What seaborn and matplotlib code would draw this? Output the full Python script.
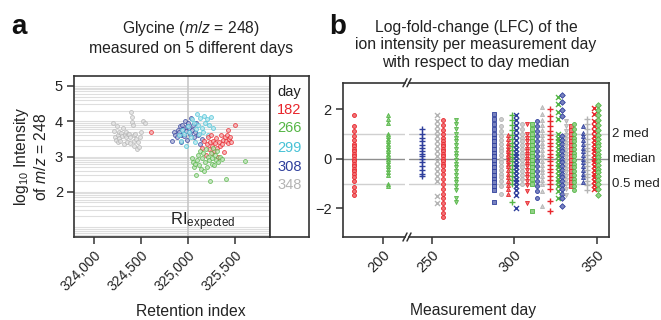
import math
import matplotlib
matplotlib.use('Agg')
import matplotlib.pyplot as plt
import matplotlib.colors as mcolors
import seaborn as sns
import pandas as pd

# ---------------- data: panel a ----------------
DAY_LABELS = ['182', '266', '299', '308', '348']

RI_348 = [324200, 324210, 324220, 324235, 324240, 324250, 324255, 324265, 324270, 324280,
          324290, 324300, 324310, 324320, 324330, 324340, 324345, 324350, 324360, 324370,
          324380, 324385, 324395, 324400, 324405, 324410, 324420, 324425, 324430, 324440,
          324450, 324460, 324470, 324480, 324490, 324500, 324520, 324545]
INT_348 = [3.95, 3.72, 3.55, 3.48, 3.85, 3.62, 3.40, 3.70, 3.52, 3.45,
           3.66, 3.58, 3.80, 3.35, 3.62, 3.55, 3.70, 3.42, 3.63, 3.64,
           3.38, 3.55, 4.25, 4.12, 3.98, 3.88, 3.60, 3.30, 3.45, 3.65,
           3.50, 3.22, 3.40, 3.28, 3.55, 3.68, 4.00, 3.95]

RI_308 = [324830, 324850, 324860, 324880, 324890, 324900, 324910, 324920, 324930, 324940,
          324950, 324960, 324965, 324975, 324985, 324990, 325000, 325010, 325020, 325030,
          325040, 325050, 325060, 325075, 325090, 325110, 325130, 325150]
INT_308 = [3.45, 3.70, 3.62, 3.55, 3.75, 3.68, 3.85, 3.40, 3.62, 3.90,
           3.78, 3.58, 4.00, 3.72, 3.85, 3.48, 3.95, 3.80, 3.65, 4.10,
           3.75, 3.88, 3.55, 3.70, 3.95, 3.60, 3.35, 3.50]

RI_299 = [324900, 324920, 324940, 324960, 324980, 325000, 325010, 325030, 325040, 325060,
          325070, 325080, 325100, 325110, 325120, 325130, 325150, 325160, 325170, 325180,
          325200, 325210, 325220, 325240, 325270]
INT_299 = [3.60, 3.45, 3.75, 3.65, 3.30, 3.85, 3.70, 3.55, 4.05, 3.95,
           3.40, 3.78, 4.20, 3.88, 3.65, 4.10, 3.82, 3.70, 4.15, 3.95,
           4.05, 3.60, 3.90, 4.12, 3.80]

RI_182 = [324610, 325150, 325170, 325190, 325200, 325210, 325220, 325230, 325240, 325250,
          325260, 325270, 325280, 325290, 325300, 325310, 325320, 325330, 325340, 325350,
          325360, 325370, 325380, 325390, 325400, 325410, 325420, 325430, 325440, 325450,
          325460, 325500]
INT_182 = [3.68, 3.25, 3.45, 3.05, 3.35, 3.55, 3.20, 3.40, 3.60, 3.10,
           3.30, 3.45, 3.15, 3.38, 3.52, 3.25, 3.00, 3.42, 3.30, 3.60,
           3.35, 3.48, 3.12, 3.55, 3.45, 3.62, 3.38, 3.75, 3.50, 3.55,
           3.40, 3.88]

RI_266 = [325040, 325050, 325060, 325075, 325090, 325100, 325110, 325120, 325130, 325140,
          325150, 325160, 325170, 325180, 325190, 325200, 325210, 325220, 325230, 325240,
          325250, 325260, 325270, 325280, 325290, 325300, 325310, 325320, 325340, 325360,
          325400, 325610]
INT_266 = [2.95, 2.85, 2.70, 2.78, 2.48, 2.90, 3.05, 2.75, 3.15, 2.65,
           2.95, 3.10, 2.60, 2.85, 3.20, 2.70, 3.00, 2.90, 2.30, 3.10,
           2.80, 2.95, 3.25, 2.75, 3.05, 2.90, 3.15, 2.85, 3.00, 2.92,
           2.36, 2.88]

RI_TICKS = [324000, 324500, 325000, 325500]
RI_EXPECTED = 325000

# ---------------- data: panel b ----------------
LFC_DAYS = [182, 203, 244, 253, 257, 265, 288, 292, 296, 298.5, 301, 304.5, 307.5, 311,
            313.6, 316.6, 321.7, 326.3, 328.7, 331.4, 334.2, 336.4, 341.5, 344.3, 348.5, 351]
LFC_VALUES = [
    [1.75, 1.3, 1.1, 0.9, 0.75, 0.6, 0.5, 0.4, 0.3, 0.2, 0.1, 0.0, -0.1, -0.2, -0.3, -0.4, -0.5, -0.6, -0.75, -0.9, -1.15, -1.3, -1.45],
    [1.75, 1.6, 1.45, 1.0, 0.9, 0.8, 0.7, 0.6, 0.5, 0.4, 0.3, 0.2, 0.1, 0.0, -0.1, -0.2, -0.3, -0.4, -0.55, -0.65, -1.0, -1.1],
    [1.2, 1.0, 0.85, 0.7, 0.55, 0.45, 0.3, 0.2, 0.1, 0.0, -0.15, -0.3, -0.45, -0.6, -0.7],
    [1.75, 1.5, 1.3, 1.1, 0.9, 0.7, 0.5, 0.3, 0.1, -0.1, -0.3, -0.5, -0.7, -0.9, -1.5, -1.8],
    [1.55, 1.35, 1.15, 1.0, 0.85, 0.7, 0.6, 0.5, 0.4, 0.3, 0.2, 0.1, 0.0, -0.1, -0.2, -0.3, -0.45, -0.6, -0.8, -1.0, -1.2, -1.4, -1.6, -1.8, -2.0, -2.2, -2.35],
    [1.55, 1.4, 1.2, 1.0, 0.85, 0.7, 0.55, 0.4, 0.25, 0.1, -0.05, -0.2, -0.35, -0.5, -0.65, -0.8, -0.95, -1.1, -1.25, -1.6, -1.75],
    [1.8, 1.6, 1.4, 1.2, 1.0, 0.85, 0.7, 0.55, 0.4, 0.25, 0.1, -0.05, -0.2, -0.35, -0.5, -0.65, -0.8, -0.95, -1.1, -1.25, -1.75],
    [1.6, 1.3, 1.1, 0.9, 0.75, 0.6, 0.45, 0.3, 0.15, 0.0, -0.15, -0.3, -0.45, -0.6, -0.75, -0.9, -1.1, -1.4],
    [0.95, 0.8, 0.65, 0.5, 0.4, 0.3, 0.2, 0.1, 0.0, -0.1, -0.2, -0.3, -0.45, -0.6, -0.75, -0.9, -1.05, -1.2, -1.42],
    [1.75, 1.55, 1.35, 1.15, 0.95, 0.8, 0.65, 0.5, 0.35, 0.2, 0.05, -0.1, -0.25, -0.4, -0.55, -0.7, -0.85, -1.0, -1.75],
    [1.75, 1.55, 1.35, 1.15, 0.95, 0.75, 0.55, 0.4, 0.25, 0.1, -0.05, -0.2, -0.35, -0.5, -0.65, -0.8, -0.95, -1.1, -1.25, -1.45, -2.0],
    [1.4, 1.2, 1.0, 0.85, 0.7, 0.55, 0.4, 0.25, 0.1, -0.05, -0.2, -0.35, -0.5, -0.65, -0.8, -1.0],
    [1.4, 1.0, 0.85, 0.7, 0.55, 0.4, 0.3, 0.2, 0.1, 0.0, -0.1, -0.2, -0.3, -0.45, -0.6, -0.75, -0.9, -1.05, -1.3, -1.8],
    [1.4, 1.2, 1.0, 0.85, 0.7, 0.55, 0.4, 0.25, 0.1, -0.05, -0.2, -0.35, -0.5, -0.65, -0.8, -1.0, -2.1],
    [1.5, 1.3, 1.1, 0.9, 0.7, 0.5, 0.3, 0.1, -0.1, -0.3, -0.5, -0.7, -0.9, -1.1, -1.3, -1.6],
    [2.1, 1.8, 1.55, 1.35, 1.15, 0.95, 0.8, 0.65, 0.5, 0.35, 0.2, 0.05, -0.1, -0.25, -0.4, -0.55, -0.7, -0.85, -1.0, -1.3, -1.9],
    [2.0, 1.7, 1.5, 1.3, 1.1, 0.95, 0.8, 0.65, 0.5, 0.35, 0.2, 0.05, -0.1, -0.25, -0.4, -0.55, -0.7, -0.85, -1.0, -1.2, -1.7, -2.1],
    [2.5, 2.2, 1.9, 1.6, 1.0, 0.85, 0.7, 0.55, 0.4, 0.25, 0.1, -0.05, -0.2, -0.35, -0.5, -0.65, -0.8, -0.95, -1.1, -1.3, -1.6],
    [2.55, 2.3, 1.95, 1.7, 0.9, 0.75, 0.6, 0.45, 0.3, 0.15, 0.0, -0.15, -0.3, -0.45, -0.6, -0.75, -0.9, -1.05, -1.2, -1.4, -1.6, -1.9],
    [1.5, 1.3, 1.1, 0.95, 0.8, 0.65, 0.5, 0.35, 0.2, 0.05, -0.1, -0.25, -0.4, -0.55, -0.7, -0.85, -1.0, -1.2, -1.45],
    [1.3, 1.15, 1.0, 0.85, 0.7, 0.55, 0.4, 0.25, 0.1, -0.05, -0.2, -0.35, -0.5, -0.65, -0.8, -0.95, -1.1],
    [1.4, 1.2, 1.0, 0.85, 0.7, 0.55, 0.4, 0.25, 0.1, -0.05, -0.2, -0.35, -0.5, -0.65, -0.8, -0.95, -1.1, -1.25],
    [1.3, 1.05, 0.9, 0.75, 0.6, 0.45, 0.3, 0.15, 0.0, -0.15, -0.3, -0.45, -0.6, -0.75, -0.95],
    [1.6, 1.4, 1.2, 1.0, 0.8, 0.6, 0.45, 0.3, 0.15, 0.0, -0.15, -0.3, -0.45, -0.6, -0.75, -0.9, -1.05, -1.25],
    [2.05, 1.8, 1.5, 1.3, 1.1, 0.9, 0.75, 0.6, 0.45, 0.3, 0.15, 0.0, -0.15, -0.3, -0.45, -0.6, -0.75, -0.9, -1.05, -1.2],
    [2.15, 1.95, 1.75, 1.55, 1.35, 1.15, 0.95, 0.8, 0.65, 0.5, 0.35, 0.2, 0.05, -0.1, -0.25, -0.4, -0.55, -0.7, -0.85, -1.0, -1.2, -1.45],
]
LFC_REF_LINES = [1, 0, -1]
LFC_REF_LABELS = ['2 med', 'median', '0.5 med']
DAY_TICKS_LEFT = [200]
DAY_TICKS_RIGHT = [250, 300, 350]

# ---------------- styles ----------------
RED, GREEN, CYAN, BLUE, GRAY = '#e8262c', '#55b646', '#48c2d6', '#2f3f9c', '#b4b4b4'
A_COLORS = {'182': RED, '266': GREEN, '299': CYAN, '308': BLUE, '348': GRAY}
B_COLORS = [RED, GREEN, BLUE, GRAY, RED, GREEN, BLUE, GRAY, RED, GREEN, BLUE, GRAY, RED,
            GREEN, BLUE, GRAY, RED, GREEN, BLUE, GRAY, RED, GREEN, BLUE, GRAY, RED, GREEN]
B_MARKERS = ['o', '^', '+', 'x', 'o', 'v', 's', 'o', '^', '+', 'x', 'o', 'v', 's',
             'o', '^', '+', 'x', 'D', 'v', 's', 'o', '^', '+', 'x', 'D']

sns.set_theme(style='ticks')
plt.rcParams['font.family'] = ['Liberation Sans', 'DejaVu Sans']
plt.rcParams['mathtext.fontset'] = 'custom'
plt.rcParams['mathtext.rm'] = 'Liberation Sans'
plt.rcParams['mathtext.it'] = 'Liberation Sans:italic'
plt.rcParams['axes.unicode_minus'] = True

W, H = 661, 320
fig = plt.figure(figsize=(W / 100, H / 100), dpi=100)


def rect(l, t, r, b):
    return [l / W, 1 - b / H, (r - l) / W, (b - t) / H]


def light(c, f=0.55):
    r, g, b = mcolors.to_rgb(c)
    return (r + (1 - r) * f, g + (1 - g) * f, b + (1 - b) * f)


SPINE = '#333333'
TXT = '#222222'
TITLE_FS = 11.3

# ================= panel a =================
axa = fig.add_axes(rect(74, 76, 270, 237))
axl = fig.add_axes(rect(270, 76, 309, 237))

for n in range(0, 6):
    for k in range(1, 10):
        axa.axhline(n + math.log10(k), color='#dedede', lw=0.8, zorder=0)
axa.axvline(RI_EXPECTED, color='#c8c8c8', lw=1.2, zorder=0)

groups = [('348', RI_348, INT_348), ('308', RI_308, INT_308), ('299', RI_299, INT_299),
          ('182', RI_182, INT_182), ('266', RI_266, INT_266)]
for lab, xs, ys in groups:
    df = pd.DataFrame({'ri': xs, 'li': ys})
    c = A_COLORS[lab]
    sns.scatterplot(data=df, x='ri', y='li', ax=axa, color=light(c, 0.6), edgecolor=c,
                    linewidth=0.6, s=8, alpha=0.8, legend=False, zorder=3)

axa.set_xlim(323787, 325872)
axa.set_ylim(0.72, 5.28)
axa.set_xticks(RI_TICKS)
axa.set_xticklabels([f'{v:,}' for v in RI_TICKS], rotation=45, ha='right',
                    rotation_mode='anchor', fontsize=10, color=TXT)
axa.set_yticks([2, 3, 4, 5])
axa.set_yticklabels(['2', '3', '4', '5'], fontsize=10.5, color=TXT)
axa.tick_params(axis='both', length=5, width=1.1, color=SPINE, pad=3)
axa.set_xlabel('')
axa.set_ylabel('log$_{10}$ Intensity\nof $m/z$ = 248', fontsize=TITLE_FS, color=TXT, labelpad=4)
for sp in axa.spines.values():
    sp.set_color(SPINE)
    sp.set_linewidth(1.2)
axa.text(324805, 1.05, r'RI$_{\mathrm{expected}}$', fontsize=12, color=TXT, ha='left', va='baseline')
fig.text(191 / W, 1 - 311 / H, 'Retention index', ha='center', va='center', fontsize=TITLE_FS, color=TXT)

axl.set_xticks([])
axl.set_yticks([])
for sp in axl.spines.values():
    sp.set_color(SPINE)
    sp.set_linewidth(1.2)
leg_y = [0.789, 0.677, 0.553, 0.435, 0.323]
axl.text(0.5, 0.90, 'day', transform=axl.transAxes, ha='center', va='center', fontsize=10.5, color=TXT)
for lab, yy in zip(DAY_LABELS, leg_y):
    axl.text(0.5, yy, lab, transform=axl.transAxes, ha='center', va='center', fontsize=10.5,
             color=A_COLORS[lab])

fig.text(191 / W, 1 - 38 / H, 'Glycine ($m/z$ = 248)\nmeasured on 5 different days',
         ha='center', va='center', fontsize=TITLE_FS, color=TXT, linespacing=1.25)
fig.text(11 / W, 1 - 27 / H, 'a', fontsize=20, fontweight='bold', ha='left', va='center', color='#111111')

# ================= panel b =================
PX_PER_DAY = 1.648
gap_l, gap_r = 405, 409
axb1 = fig.add_axes(rect(342.7, 82.7, gap_l, 237))
axb2 = fig.add_axes(rect(gap_r, 82.7, 609, 237), sharey=axb1)
axb1.set_xlim(200 - (383.3 - 342.7) / PX_PER_DAY, 200 + (gap_l - 383.3) / PX_PER_DAY)
axb2.set_xlim(250 - (431.7 - gap_r) / PX_PER_DAY, 350 + (609 - 596.7) / PX_PER_DAY)
axb1.set_ylim(-3.15, 3.06)

for ax in (axb1, axb2):
    ax.axhline(1, color='#d0d0d0', lw=1.0, zorder=0)
    ax.axhline(-1, color='#d0d0d0', lw=1.0, zorder=0)
    ax.axhline(0, color='#8f8f8f', lw=1.0, zorder=0)

for d, vals, c, m in zip(LFC_DAYS, LFC_VALUES, B_COLORS, B_MARKERS):
    ax = axb1 if d < 220 else axb2
    df = pd.DataFrame({'day': [d] * len(vals), 'lfc': vals})
    if m in ('+', 'x'):
        sns.scatterplot(data=df, x='day', y='lfc', ax=ax, color=c, marker=m, s=13,
                        linewidth=1.0, legend=False, zorder=3)
    else:
        sns.scatterplot(data=df, x='day', y='lfc', ax=ax, color=light(c, 0.35), edgecolor=c,
                        marker=m, s=8, linewidth=0.6, legend=False, zorder=3)

axb1.set_xticks(DAY_TICKS_LEFT)
axb2.set_xticks(DAY_TICKS_RIGHT)
for ax, ticks in ((axb1, DAY_TICKS_LEFT), (axb2, DAY_TICKS_RIGHT)):
    ax.set_xticklabels([str(t) for t in ticks], rotation=45, ha='right',
                       rotation_mode='anchor', fontsize=10.5, color=TXT)
    ax.set_xlabel('')
    ax.set_ylabel('')
    ax.tick_params(axis='both', length=5, width=1.1, color=SPINE, pad=3)
    for sp in ax.spines.values():
        sp.set_color(SPINE)
        sp.set_linewidth(1.2)
axb1.set_yticks([2, 0, -2])
axb1.set_yticklabels(['2', '0', '\u22122'], fontsize=10.5, color=TXT)
axb1.spines['right'].set_visible(False)
axb2.spines['left'].set_visible(False)
axb2.tick_params(axis='y', left=False, labelleft=False)

# break marks
for ypx in (82.7, 237):
    y0 = 1 - ypx / H
    for xpx in (gap_l, gap_r):
        fig.add_artist(plt.Line2D([(xpx - 2) / W, (xpx + 2) / W], [y0 - 4 / H, y0 + 4 / H],
                                  color=SPINE, lw=1.1))

for yv, lab in zip(LFC_REF_LINES, LFC_REF_LABELS):
    axb2.text(1.015, yv, lab, transform=axb2.get_yaxis_transform(), ha='left', va='center',
              fontsize=9.5, color=TXT, clip_on=False)

fig.text(476 / W, 1 - 45 / H,
         'Log-fold-change (LFC) of the\nion intensity per measurement day\nwith respect to day median',
         ha='center', va='center', fontsize=TITLE_FS, color=TXT, linespacing=1.2)
fig.text(473 / W, 1 - 311 / H, 'Measurement day', ha='center', va='center', fontsize=TITLE_FS, color=TXT)
fig.text(329 / W, 1 - 27 / H, 'b', fontsize=20, fontweight='bold', ha='left', va='center', color='#111111')

fig.savefig('out.png', dpi=100)
